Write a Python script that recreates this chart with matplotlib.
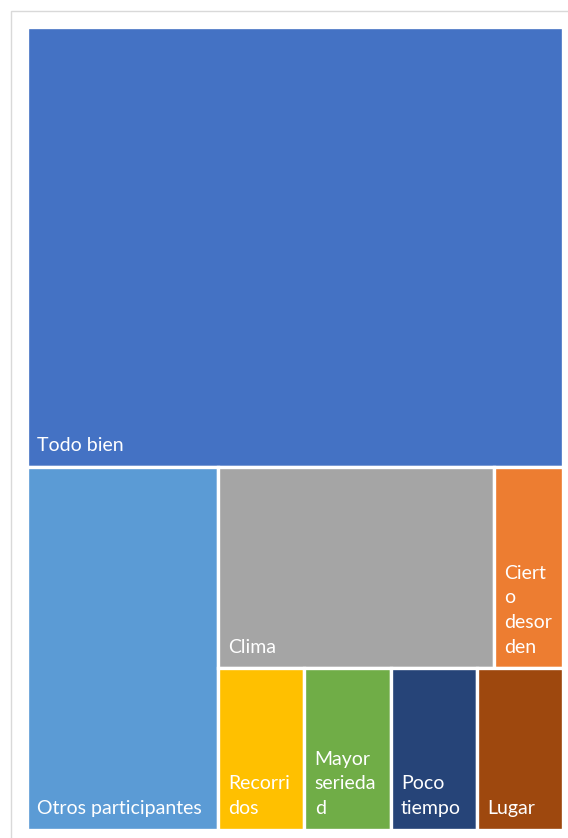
import matplotlib.pyplot as plt
from matplotlib.patches import Rectangle

# categories in treemap order
labels = ["Todo bien", "Otros participantes", "Clima", "Cierto desorden",
          "Recorridos", "Mayor seriedad", "Poco tiempo", "Lugar"]
shown = ["Todo bien", "Otros participantes", "Clima", "Ciert\no\ndesor\nden",
         "Recorri\ndos", "Mayor\nserieda\nd", "Poco\ntiempo", "Lugar"]
values = [17, 5, 4, 1, 1, 1, 1, 1]
colors = ["#4472C4", "#5B9BD5", "#A5A5A5", "#ED7D31",
          "#FFC000", "#70AD47", "#264478", "#9E480E"]


def layout(vals):
    """Excel-like treemap split: top band, left column, then two rows."""
    total = sum(vals)
    rects = []
    h0 = vals[0] / total
    rects.append((0, 0, 1, h0))
    rest = sum(vals[1:])
    H = 1 - h0
    w1 = vals[1] / rest
    rects.append((0, h0, w1, H))
    right = vals[2:]
    W = 1 - w1
    top = right[:2]
    bottom = right[2:]
    ht = sum(top) / sum(right) * H
    x = w1
    for v in top:
        w = v / sum(top) * W
        rects.append((x, h0, w, ht))
        x += w
    x = w1
    for v in bottom:
        w = v / sum(bottom) * W
        rects.append((x, h0 + ht, w, H - ht))
        x += w
    return rects


fig = plt.figure(figsize=(5.68, 8.38), dpi=100)
fig.patches.append(Rectangle((11 / 568, -0.01), 1.1, 1 - 11 / 838 + 0.01,
                             transform=fig.transFigure, fill=False,
                             edgecolor="#d9d9d9", linewidth=1))

ax = fig.add_axes([26.5 / 568, 1 - 829.5 / 838, 536.5 / 568, 803 / 838])
ax.set_xlim(0, 1)
ax.set_ylim(1, 0)
ax.axis("off")

for (x, y, w, h), txt, c in zip(layout(values), shown, colors):
    ax.add_patch(Rectangle((x, y), w, h, facecolor=c, edgecolor="white",
                           linewidth=2.4))
    ax.annotate(txt, (x, y + h), xytext=(7.5, 9), textcoords="offset points",
                ha="left", va="bottom", color="white", fontsize=14,
                family="Lato", linespacing=1.55)

fig.savefig("out.png", dpi=100)
